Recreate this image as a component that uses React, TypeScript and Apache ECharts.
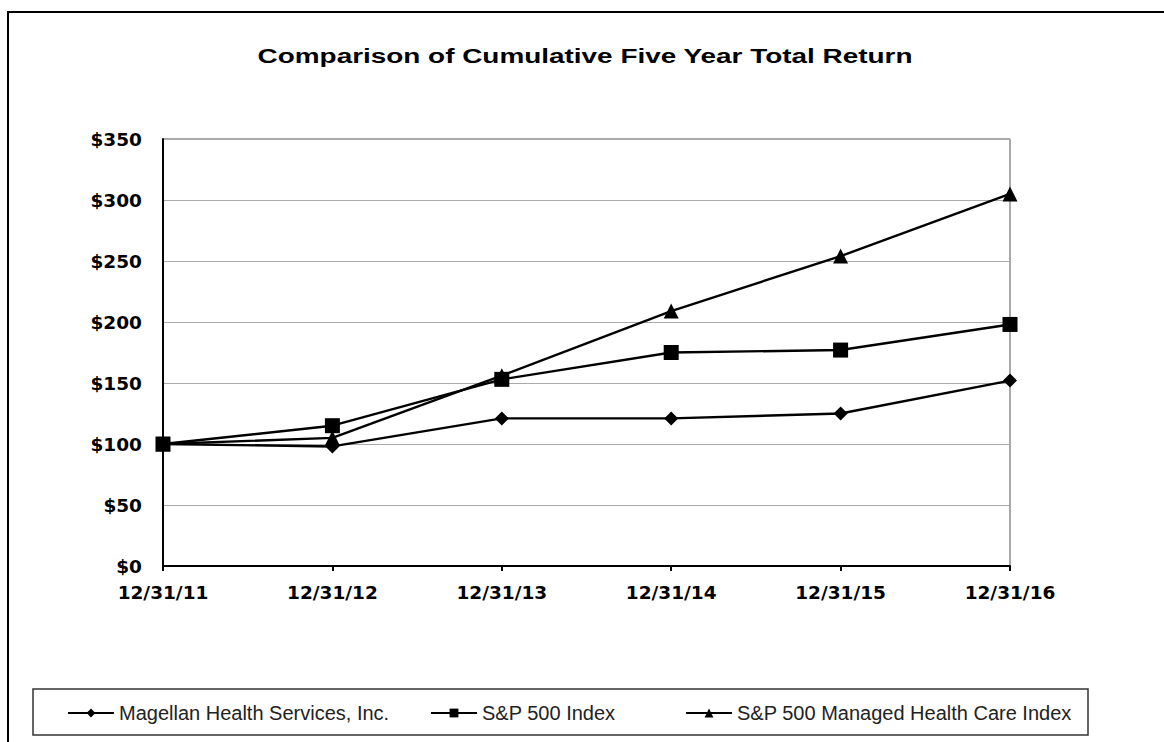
import React, { useEffect, useRef } from "react";
import * as echarts from "echarts";

const categories = ["12/31/11", "12/31/12", "12/31/13", "12/31/14", "12/31/15", "12/31/16"];
const magellan = [100, 98, 121, 121, 125, 152];
const sp500 = [100, 115, 153, 175, 177, 198];
const managedHealth = [100, 105, 156, 209, 254, 305];
const seriesNames = [
  "Magellan Health Services, Inc.",
  "S&P 500 Index",
  "S&P 500 Managed Health Care Index",
];
const titleText = "Comparison of Cumulative Five Year Total Return";

export default function App() {
  const ref = useRef<HTMLDivElement>(null);
  useEffect(() => {
    document.body.style.margin = "0";
    const chart = echarts.init(ref.current!, null, { renderer: "svg" });
    const arial = "Arial, 'Liberation Sans', sans-serif";
    const wide = "'DejaVu Sans', sans-serif";
    const mk = (name: string, data: number[], symbol: string, size: number) => ({
      name,
      type: "line",
      data,
      symbol,
      symbolSize: size,
      showSymbol: true,
      lineStyle: { color: "#000", width: 2.4 },
      itemStyle: { color: "#000" },
    });
    const legendBase = {
      top: 703,
      padding: 0,
      itemWidth: 46,
      itemHeight: 11,
      lineStyle: { width: 2 },
      textStyle: { fontFamily: arial, fontSize: 20, color: "#222", padding: [0, 0, 0, 0] },
    };
    chart.setOption({
      animation: false,
      backgroundColor: "#fff",
      grid: {
        left: 163,
        right: 154,
        top: 139,
        bottom: 176,
        show: true,
        borderColor: "#555",
        borderWidth: 1,
      },
      xAxis: {
        type: "category",
        data: categories,
        boundaryGap: false,
        axisLine: { lineStyle: { color: "#000", width: 2 } },
        axisTick: { show: true, length: 5, lineStyle: { color: "#000", width: 2 } },
        axisLabel: {
          fontFamily: wide,
          fontWeight: "bold",
          fontSize: 18.5,
          color: "#000",
          margin: 17,
        },
        splitLine: { show: false },
      },
      yAxis: {
        type: "value",
        min: 0,
        max: 350,
        interval: 50,
        axisLine: { show: true, lineStyle: { color: "#000", width: 2 } },
        axisTick: { show: false },
        axisLabel: {
          fontFamily: wide,
          fontWeight: "bold",
          fontSize: 18.5,
          color: "#000",
          margin: 21,
          formatter: (v: number) => "$" + v,
        },
        splitLine: { lineStyle: { color: "#aaa", width: 1 } },
      },
      legend: [
        { ...legendBase, left: 67, data: [seriesNames[0]] },
        { ...legendBase, left: 430, data: [seriesNames[1]] },
        { ...legendBase, left: 685, data: [seriesNames[2]] },
      ],
      graphic: [
        {
          type: "rect",
          shape: { x: 8, y: 12, width: 1300, height: 900 },
          style: { fill: "none", stroke: "#000", lineWidth: 2 },
          silent: true,
        },
        {
          type: "rect",
          shape: { x: 33, y: 689, width: 1055, height: 46 },
          style: { fill: "none", stroke: "#333", lineWidth: 1.5 },
          silent: true,
        },
        {
          type: "text",
          x: 585,
          y: 56,
          scaleX: 1.33,
          style: {
            text: titleText,
            fontFamily: arial,
            fontWeight: "bold",
            fontSize: 21,
            fill: "#000",
            align: "center",
            verticalAlign: "middle",
          },
          silent: true,
        },
      ],
      series: [
        mk(seriesNames[0], magellan, "diamond", 14),
        mk(seriesNames[1], sp500, "rect", 15),
        mk(seriesNames[2], managedHealth, "triangle", 15),
      ],
    });
    return () => chart.dispose();
  }, []);
  return <div ref={ref} style={{ width: 1164, height: 742 }} />;
}
